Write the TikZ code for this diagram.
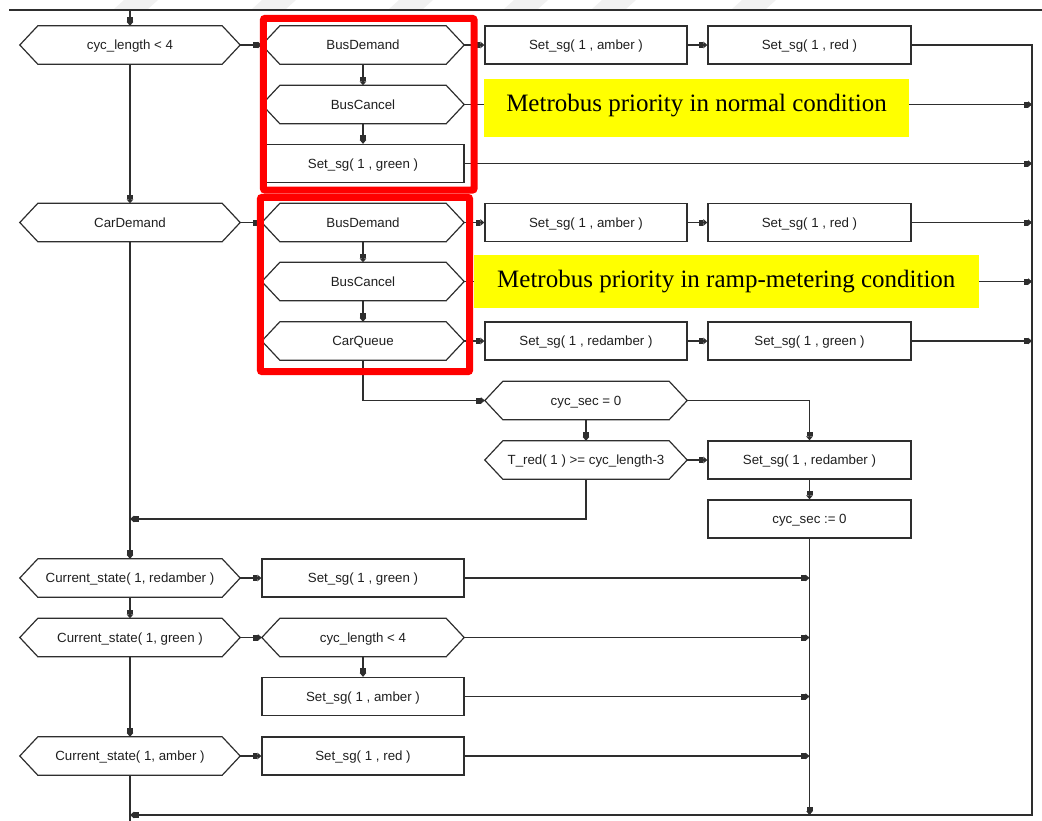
\documentclass[tikz,border=0pt]{standalone}
\usepackage{fontspec}
\setmainfont{Liberation Serif}
\newfontfamily\chartfont{Liberation Sans}
\usetikzlibrary{arrows.meta,calc}

\definecolor{inkgray}{HTML}{2E2E2E}
\definecolor{framered}{HTML}{FF0000}
\definecolor{notebg}{HTML}{FFFF00}
\definecolor{markgray}{HTML}{F1F1F1}

\tikzset{
  lbl/.style={font=\chartfont\fontsize{13.3}{16}\selectfont, text=black!88,
    inner sep=0pt, minimum height=38pt, text height=9.5pt, text depth=0pt},
  procbox/.style={lbl, rectangle, draw=inkgray, line width=1.3pt, fill=white,
    minimum width=202pt},
  testbox/.style={lbl, rectangle, minimum width=202pt},
  widetest/.style={testbox, minimum width=220pt},
  hexline/.style={draw=inkgray, line width=1.2pt, line join=miter},
  flow/.style={draw=inkgray, line width=1.2pt},
  arr/.style={flow, -{Rectangle[length=4.5pt,width=6pt]Triangle[length=4pt,width=6.5pt]}},
  note/.style={fill=notebg, font=\fontsize{25}{30}\selectfont, inner sep=0pt,
    text=black},
  redframe/.style={draw=framered, line width=7pt, rounded corners=2pt},
  watermark/.style={fill=markgray, draw=none},
}

\begin{document}
\begin{tikzpicture}[x=1pt,y=-1pt]
\useasboundingbox (0,0) rectangle (1042,820);

% faint watermark strokes along the top edge
\foreach \wx in {110,248,385,500,588,728}
  \fill[watermark] (\wx+14,0) -- (\wx+48,0) -- (\wx+38,9) -- (\wx+4,9) -- cycle;

% incoming line at the top
\coordinate (topL) at (9,10);
\coordinate (topR) at (1042,10);
\coordinate (topIn) at (130,10);
\draw[flow] (topL) -- (topR);

% left column: main tests
\node[widetest] (len1)   at (130,45)    {cyc\_length < 4};
\node[widetest] (cardem) at (130,222.5) {CarDemand};
\node[widetest] (cs1)    at (130,578)   {Current\_state( 1, redamber )};
\node[widetest] (cs2)    at (130,637.5) {Current\_state( 1, green )};
\node[widetest] (cs3)    at (130,756)   {Current\_state( 1, amber )};

% second column
\node[testbox] (bd1)  at (363,45)    {BusDemand};
\node[testbox] (bc1)  at (363,104.5) {BusCancel};
\node[procbox] (sgG1) at (363,163.5) {Set\_sg( 1 , green )};
\node[testbox] (bd2)  at (363,222.5) {BusDemand};
\node[testbox] (bc2)  at (363,281.5) {BusCancel};
\node[testbox] (cq)   at (363,341)   {CarQueue};
\node[procbox] (sgG2) at (363,578)   {Set\_sg( 1 , green )};
\node[testbox] (len2) at (363,637.5) {cyc\_length < 4};
\node[procbox] (sgA3) at (363,696.5) {Set\_sg( 1 , amber )};
\node[procbox] (sgR3) at (363,756)   {Set\_sg( 1 , red )};

% third column
\node[procbox] (sgA1)  at (586,45)    {Set\_sg( 1 , amber )};
\node[procbox] (sgA2)  at (586,222.5) {Set\_sg( 1 , amber )};
\node[procbox] (sgRA1) at (586,341)   {Set\_sg( 1 , redamber )};
\node[testbox] (cs0)   at (586,400.5) {cyc\_sec = 0};
\node[testbox] (tred)  at (586,460)   {T\_red( 1 ) >= cyc\_length-3};

% fourth column
\node[procbox, minimum width=203pt] (sgR1)  at (809.5,45)  {Set\_sg( 1 , red )};
\node[procbox, minimum width=203pt] (sgR2)  at (809.5,222.5) {Set\_sg( 1 , red )};
\node[procbox, minimum width=203pt] (sgG3)  at (809.5,341) {Set\_sg( 1 , green )};
\node[procbox, minimum width=203pt] (sgRA2) at (809.5,460) {Set\_sg( 1 , redamber )};
\node[procbox, minimum width=203pt] (cz)    at (809.5,519) {cyc\_sec := 0};

% hexagonal outlines of the test nodes
\foreach \n in {len1,cardem,cs1,cs2,cs3,bd1,bc1,bd2,bc2,cq,len2,cs0,tred}
  \draw[hexline] (\n.west) -- ($(\n.north west)+(18,0)$) -- ($(\n.north east)+(-18,0)$)
    -- (\n.east) -- ($(\n.south east)+(-18,0)$) -- ($(\n.south west)+(18,0)$) -- cycle;

% collecting lines
\coordinate (rbBot) at (1032,815);
\coordinate (mbBot) at (809.5,815);
\coordinate (lb) at (130,815);
\coordinate (bottomEnd) at (130,821);
\coordinate (jn) at (130,519);

% top block
\draw[arr] (topIn) -- (len1.north);
\draw[arr] (len1.east) -- (bd1.west);
\draw[arr] (bd1.east) -- (sgA1.west);
\draw[arr] (sgA1.east) -- (sgR1.west);
\draw[arr] (sgR1.east) -| (rbBot) -- (lb);
\draw[arr] (bd1.south) -- (bc1.north);
\draw[arr] (bc1.south) -- (sgG1.north);
\draw[arr] (bc1.east) -- (bc1.east -| rbBot);
\draw[arr] (sgG1.east) -- (sgG1.east -| rbBot);
\draw[arr] (len1.south) -- (cardem.north);

% car demand block
\draw[arr] (cardem.east) -- (bd2.west);
\draw[arr] (bd2.east) -- (sgA2.west);
\draw[arr] (sgA2.east) -- (sgR2.west);
\draw[arr] (sgR2.east) -- (sgR2.east -| rbBot);
\draw[arr] (bd2.south) -- (bc2.north);
\draw[arr] (bc2.south) -- (cq.north);
\draw[arr] (bc2.east) -- (bc2.east -| rbBot);
\draw[arr] (cq.east) -- (sgRA1.west);
\draw[arr] (sgRA1.east) -- (sgG3.west);
\draw[arr] (sgG3.east) -- (sgG3.east -| rbBot);
\draw[arr] (cq.south) |- (cs0.west);
\draw[arr] (cs0.south) -- (tred.north);
\draw[arr] (cs0.east) -| (sgRA2.north);
\draw[arr] (tred.east) -- (sgRA2.west);
\draw[arr] (tred.south) |- (jn);
\draw[arr] (sgRA2.south) -- (cz.north);
\draw[arr] (cz.south) -- (mbBot);
\draw[arr] (cardem.south) -- (cs1.north);

% current state block
\draw[arr] (cs1.east) -- (sgG2.west);
\draw[arr] (sgG2.east) -- (sgG2.east -| mbBot);
\draw[arr] (cs1.south) -- (cs2.north);
\draw[arr] (cs2.east) -- (len2.west);
\draw[arr] (len2.east) -- (len2.east -| mbBot);
\draw[arr] (len2.south) -- (sgA3.north);
\draw[arr] (sgA3.east) -- (sgA3.east -| mbBot);
\draw[arr] (cs2.south) -- (cs3.north);
\draw[arr] (cs3.east) -- (sgR3.west);
\draw[arr] (sgR3.east) -- (sgR3.east -| mbBot);
\draw[flow] (cs3.south) -- (bottomEnd);

% highlighted groups
\draw[redframe] ($(bd1.north west)+(1.5,-7.5)$) rectangle ($(sgG1.south east)+(9.5,7)$);
\draw[redframe] ($(bd2.north west)+(-1.5,-6)$) rectangle ($(cq.south east)+(5.5,11.5)$);

% annotations
\node[note, minimum width=425pt, minimum height=58pt, text height=17pt, text depth=11pt]
  (noteA) at (696.5,108) {Metrobus priority in normal condition};
\node[note, minimum width=504.5pt, minimum height=52.7pt] (noteB) at (726.3,281.3)
  {Metrobus priority in ramp-metering condition};
\end{tikzpicture}
\end{document}
